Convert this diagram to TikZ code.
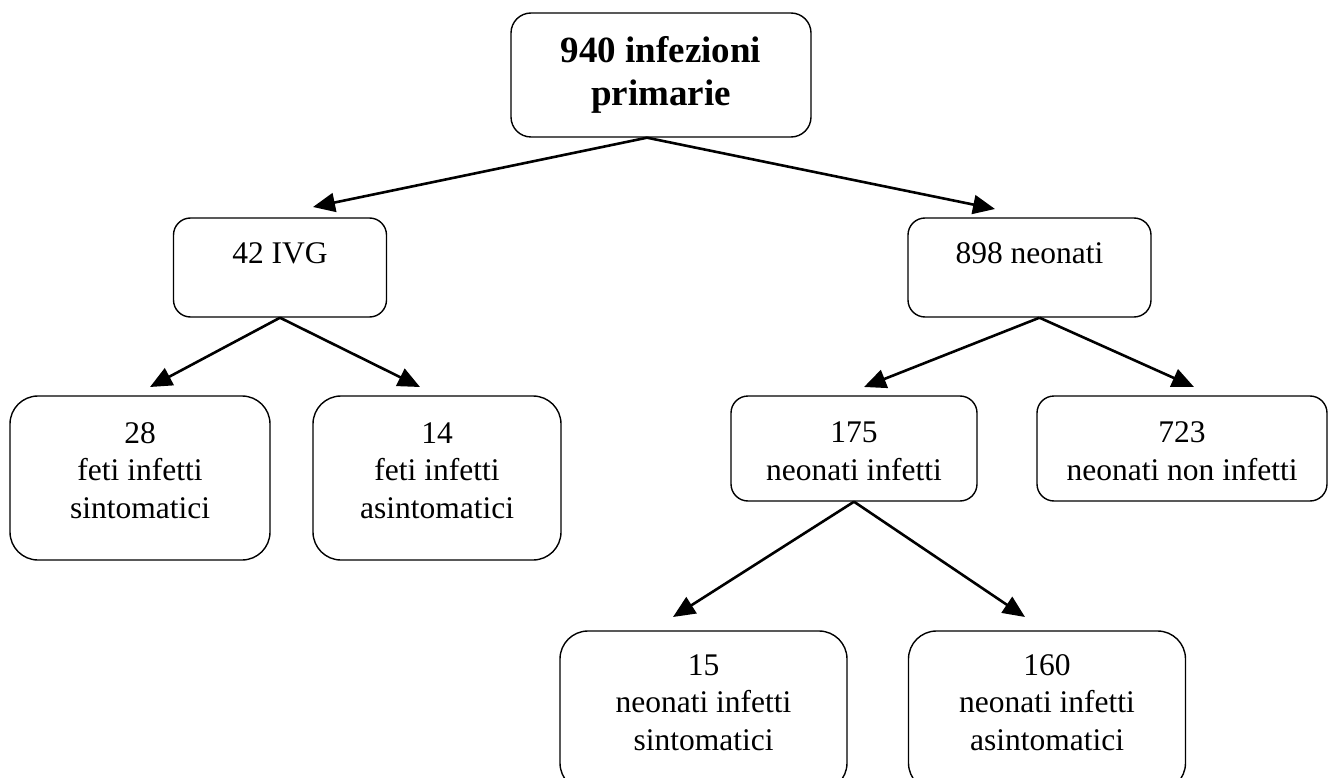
\documentclass[tikz,border=0pt]{standalone}
\usepackage{fontspec}
\setmainfont{Liberation Serif}
\usetikzlibrary{arrows.meta,calc}
\begin{document}
\begin{tikzpicture}[x=1pt,y=-1pt,
  boxs/.style={draw=black,line width=1.4pt,inner sep=0pt},
  txt/.style={anchor=base,inner sep=0pt,align=center,
    font=\fontsize{31.5}{37.5}\selectfont},
  btxt/.style={anchor=base,inner sep=0pt,align=center,
    font=\fontsize{37}{43}\selectfont\bfseries},
  arr/.style={line width=2.6pt,-{Triangle[length=22pt,width=19pt]}}]
\useasboundingbox (0,0) rectangle (1331,778);
% boxes
\node[boxs,rounded corners=20pt,minimum width=300pt,minimum height=124pt] (top) at (661,75) {};
\node[boxs,rounded corners=17pt,minimum width=213pt,minimum height=99pt] (ivg) at (280,267.5) {};
\node[boxs,rounded corners=17pt,minimum width=243pt,minimum height=99pt] (neo) at (1029.5,267.5) {};
\node[boxs,rounded corners=28pt,minimum width=260pt,minimum height=164pt] (b28) at (140,478) {};
\node[boxs,rounded corners=28pt,minimum width=248pt,minimum height=164pt] (b14) at (437,478) {};
\node[boxs,rounded corners=17pt,minimum width=246pt,minimum height=105pt] (b175) at (854,448.5) {};
\node[boxs,rounded corners=17pt,minimum width=290pt,minimum height=105pt] (b723) at (1182,448.5) {};
\node[boxs,rounded corners=28pt,minimum width=287pt,minimum height=160pt] (b15) at (703.5,711) {};
\node[boxs,rounded corners=28pt,minimum width=277pt,minimum height=160pt] (b160) at (1047,711) {};
% texts (anchor base = baseline of last line)
\node[btxt] (ttop) at (661,106) {940 infezioni\\primarie};
\node[txt] (tivg) at (280,263) {42 IVG};
\node[txt] (tneo) at (1029.5,263) {898 neonati};
\node[txt] (t28) at (140,518) {28\\feti infetti\\sintomatici};
\node[txt] (t14) at (437,518) {14\\feti infetti\\asintomatici};
\node[txt] (t175) at (854,480) {175\\neonati infetti};
\node[txt] (t723) at (1182,480) {723\\neonati non infetti};
\node[txt] (t15) at (703.5,750) {15\\neonati infetti\\sintomatici};
\node[txt] (t160) at (1047,750) {160\\neonati infetti\\asintomatici};
% arrow ends
\coordinate (e1) at (313,207);
\coordinate (e2) at (995,209);
\coordinate (e3) at (150,387);
\coordinate (e4) at (420,387);
\coordinate (e5) at (864,387);
\coordinate (e6) at (1194,387);
\coordinate (e7) at (673,617);
\coordinate (e8) at (1025,617);
\coordinate (ta) at ($(top.south)+(-14,0)$);
\coordinate (na) at ($(neo.south)+(10,0)$);
\draw[arr] (ta) -- (e1);
\draw[arr] (ta) -- (e2);
\draw[arr] (ivg.south) -- (e3);
\draw[arr] (ivg.south) -- (e4);
\draw[arr] (na) -- (e5);
\draw[arr] (na) -- (e6);
\draw[arr] (b175.south) -- (e7);
\draw[arr] (b175.south) -- (e8);
\end{tikzpicture}
\end{document}
